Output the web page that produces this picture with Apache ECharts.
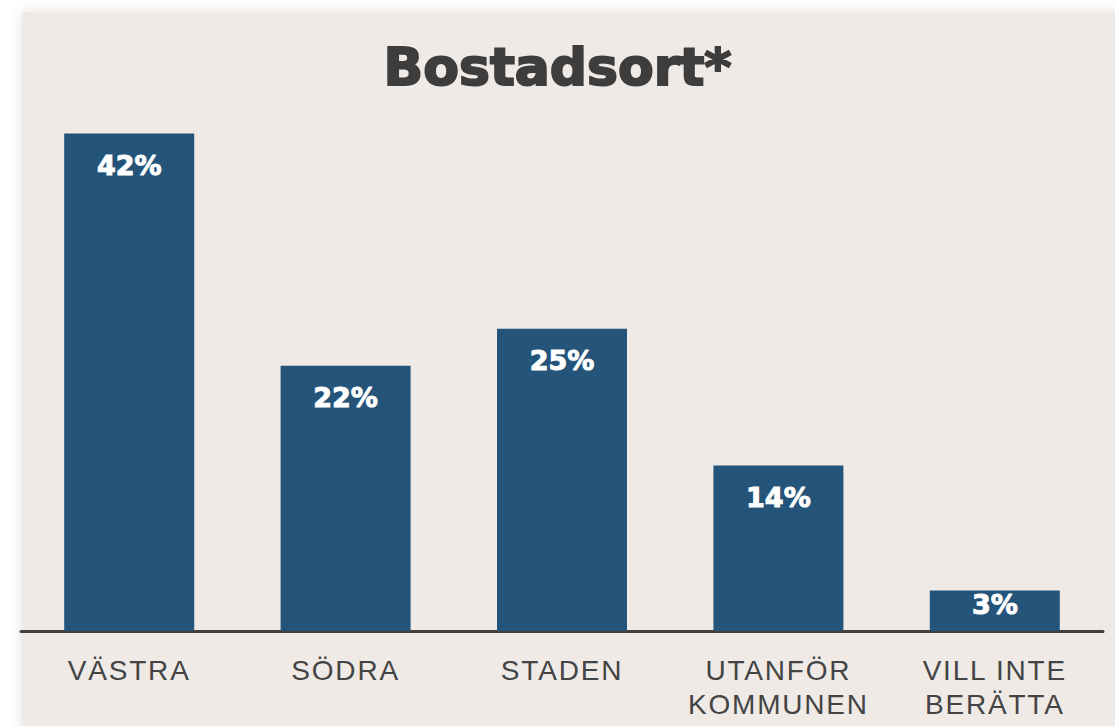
<!DOCTYPE html>
<html>
<head>
<meta charset="utf-8">
<script src="https://cdn.jsdelivr.net/npm/echarts@6/dist/echarts.min.js"></script>
<style>
    html, body { margin: 0; padding: 0; background: #fff; overflow: hidden; }
    #panel {
        position: absolute; left: 22px; top: 12px; width: 1120px; height: 740px;
        background: #efeae6; box-shadow: 0 0 14px rgba(0, 0, 0, 0.12);
    }
    #chart { position: absolute; left: 0; top: 0; width: 1115px; height: 726px; }
    #chart text[style*="Liberation Sans"] { letter-spacing: 1.8px; }
</style>
</head>
<body>
<div id="panel"></div>
<div id="chart"></div>
<script>
    const categories = ['VÄSTRA', 'SÖDRA', 'STADEN', 'UTANFÖR\nKOMMUNEN', 'VILL INTE\nBERÄTTA']
    // bar heights, labels show them rounded
    const values = [41.8, 22.3, 25.4, 13.9, 3.4]

    const getOption = () => {
        return {
            title: {
                text: 'Bostadsort*',
                left: 'center',
                top: 36,
                textStyle: {
                    fontFamily: 'DejaVu Sans',
                    fontWeight: 'bold',
                    fontSize: 52,
                    color: '#3d3d3d',
                    textBorderColor: '#3d3d3d',
                    textBorderWidth: 2
                }
            },
            grid: {
                left: 21,
                right: 12,
                top: 36,
                bottom: 95
            },
            xAxis: {
                type: 'category',
                data: categories,
                axisTick: {show: false},
                axisLine: {
                    lineStyle: {color: '#45403c', width: 3}
                },
                axisLabel: {
                    margin: 22,
                    interval: 0,
                    fontFamily: 'Liberation Sans',
                    fontSize: 28,
                    lineHeight: 34,
                    color: '#444'
                }
            },
            yAxis: {
                type: 'value',
                min: 0,
                max: 50,
                show: false,
                splitLine: {show: false}
            },
            series: [
                {
                    type: 'bar',
                    barWidth: 130,
                    data: [],
                    itemStyle: {color: '#245479'},
                    label: {
                        show: true,
                        position: 'insideTop',
                        distance: 18,
                        formatter: p => Math.round(p.value) + '%',
                        color: '#fff',
                        fontFamily: 'DejaVu Sans',
                        fontWeight: 'bold',
                        fontSize: 27,
                        textBorderColor: '#fff',
                        textBorderWidth: 1
                    }
                }
            ]
        }
    }

    const initChart = () => {
        const option = getOption()
        values.forEach(v => {
            // the small bar keeps its label pinned to the top edge
            if (v < 5) {
                option.series[0].data.push({value: v, label: {distance: 0}})
            } else {
                option.series[0].data.push(v)
            }
        })
        const chart = echarts.init(document.getElementById('chart'), null, {renderer: 'svg'})
        chart.setOption(option)
    }

    initChart()
</script>
</body>
</html>
